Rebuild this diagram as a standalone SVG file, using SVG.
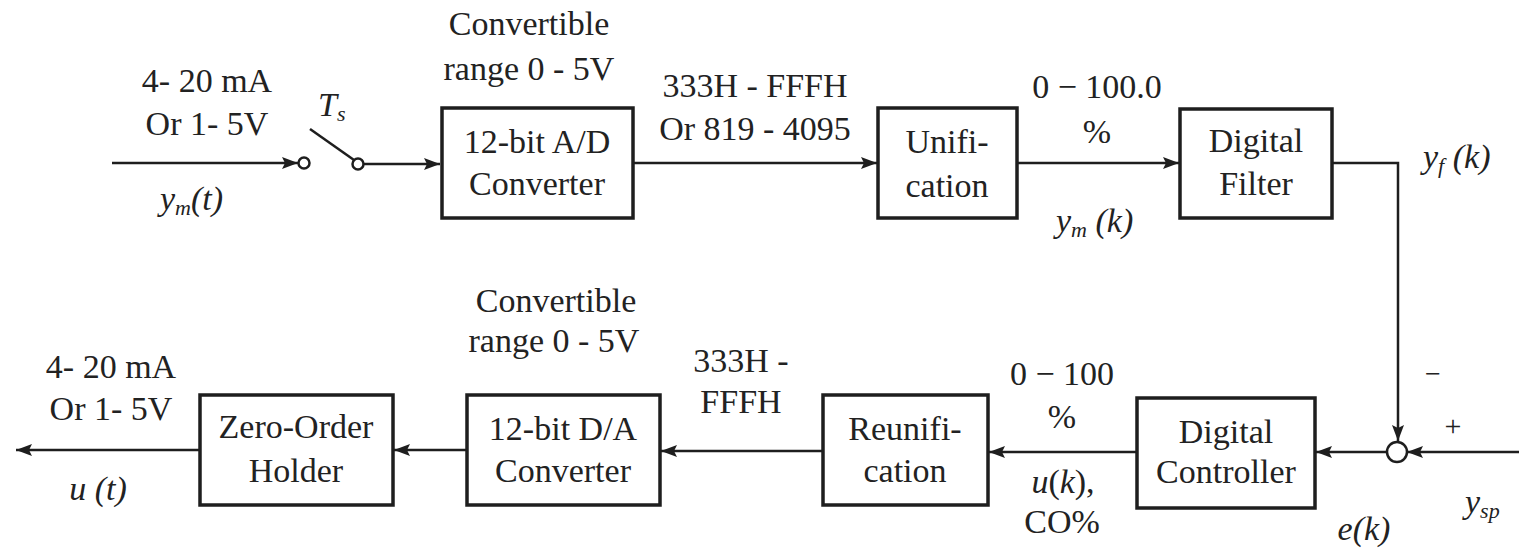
<svg xmlns="http://www.w3.org/2000/svg" width="1519" height="552" viewBox="0 0 1519 552" font-family="Liberation Serif, Times New Roman, serif">
<defs>
<marker id="arr" viewBox="0 0 16 12" refX="16" refY="6" markerWidth="16" markerHeight="12" markerUnits="userSpaceOnUse" orient="auto">
<path d="M0,0 L16,6 L0,12 L3,6 z" fill="#1e1e1e"/>
</marker>
<style>
.box{fill:#fff;stroke:#1e1e1e;stroke-width:3.5}
.ln{fill:none;stroke:#1e1e1e;stroke-width:2.5}
text{font-size:34px;fill:#222}
.t{text-anchor:middle}
.i{font-style:italic}
.sub{font-size:22px}
.sw{fill:#fff;stroke:#1e1e1e;stroke-width:2.5}
</style>
</defs>
<rect width="1519" height="552" fill="#fff"/>
<g id="connectors">
<line class="ln" x1="112" y1="163" x2="298" y2="163" marker-end="url(#arr)"/>
<line class="ln" x1="310" y1="129" x2="354" y2="160"/>
<line class="ln" x1="363" y1="164" x2="440" y2="164" marker-end="url(#arr)"/>
<line class="ln" x1="633" y1="163" x2="877" y2="163" marker-end="url(#arr)"/>
<line class="ln" x1="1017" y1="163" x2="1179" y2="163" marker-end="url(#arr)"/>
<polyline class="ln" points="1332,163 1398,163 1398,441" marker-end="url(#arr)"/>
<line class="ln" x1="1519" y1="452" x2="1407" y2="452" marker-end="url(#arr)"/>
<line class="ln" x1="1387" y1="452" x2="1316" y2="452" marker-end="url(#arr)"/>
<line class="ln" x1="1137" y1="452" x2="989" y2="452" marker-end="url(#arr)"/>
<line class="ln" x1="823" y1="451" x2="661" y2="451" marker-end="url(#arr)"/>
<line class="ln" x1="467" y1="450" x2="394" y2="450" marker-end="url(#arr)"/>
<line class="ln" x1="200" y1="450" x2="16" y2="450" marker-end="url(#arr)"/>
<circle class="sw" cx="304" cy="163" r="5.5"/>
<circle class="sw" cx="358" cy="164" r="5.5"/>
<circle class="sw" cx="1397" cy="452" r="10"/>
</g>
<g id="labels">
<text class="t" x="207" y="92">4- 20 mA</text>
<text class="t" x="207" y="135">Or 1- 5V</text>
<text class="i" x="318" y="116">T<tspan class="sub" dy="5">s</tspan></text>
<text class="i" x="160" y="210">y<tspan class="sub" dy="5">m</tspan><tspan dy="-5">(t)</tspan></text>
<text class="t" x="529" y="35">Convertible</text>
<text class="t" x="529" y="80">range 0 - 5V</text>
<text class="t" x="755" y="97">333H - FFFH</text>
<text class="t" x="755" y="140">Or 819 - 4095</text>
<text class="t" x="1097" y="98">0 − 100.0</text>
<text class="t" x="1097" y="143">%</text>
<text class="i" x="1056" y="232">y<tspan class="sub" dy="5">m</tspan><tspan dy="-5"> (k)</tspan></text>
<text class="i" x="1423" y="168">y<tspan class="sub" dy="5">f</tspan><tspan dy="-5"> (k)</tspan></text>
<text class="t" x="1433" y="383" style="font-size:28px">−</text>
<text class="t" x="1453" y="436" style="font-size:30px">+</text>
<text class="i" x="1465" y="513">y<tspan class="sub" dy="5">sp</tspan></text>
<text class="t i" x="1364" y="540">e(k)</text>
<text class="t" x="1062" y="385">0 − 100</text>
<text class="t" x="1062" y="428">%</text>
<text class="t" x="1063" y="493"><tspan class="i">u</tspan>(<tspan class="i">k</tspan>),</text>
<text class="t" x="1062" y="533">CO%</text>
<text class="t" x="741" y="372">333H -</text>
<text class="t" x="741" y="413">FFFH</text>
<text class="t" x="556" y="312">Convertible</text>
<text class="t" x="554" y="352">range 0 - 5V</text>
<text class="t" x="111" y="378">4- 20 mA</text>
<text class="t" x="111" y="420">Or 1- 5V</text>
<text class="t i" x="98" y="500">u (t)</text>
</g>
<g id="ad">
<rect class="box" x="442" y="108" width="191" height="110"/>
<text class="t" x="537" y="153">12-bit A/D</text>
<text class="t" x="537" y="195">Converter</text>
</g>
<g id="unification">
<rect class="box" x="878" y="108" width="139" height="110"/>
<text class="t" x="947" y="153">Unifi-</text>
<text class="t" x="947" y="197">cation</text>
</g>
<g id="filter">
<rect class="box" x="1180" y="109" width="152" height="109"/>
<text class="t" x="1256" y="152">Digital</text>
<text class="t" x="1256" y="195">Filter</text>
</g>
<g id="controller">
<rect class="box" x="1137" y="398" width="178" height="110"/>
<text class="t" x="1226" y="443">Digital</text>
<text class="t" x="1226" y="483">Controller</text>
</g>
<g id="reunification">
<rect class="box" x="823" y="395" width="165" height="110"/>
<text class="t" x="905" y="440">Reunifi-</text>
<text class="t" x="905" y="482">cation</text>
</g>
<g id="da">
<rect class="box" x="467" y="395" width="193" height="110"/>
<text class="t" x="563" y="440">12-bit D/A</text>
<text class="t" x="563" y="482">Converter</text>
</g>
<g id="zoh">
<rect class="box" x="200" y="395" width="193" height="110"/>
<text class="t" x="296" y="438">Zero-Order</text>
<text class="t" x="296" y="482">Holder</text>
</g>
</svg>
